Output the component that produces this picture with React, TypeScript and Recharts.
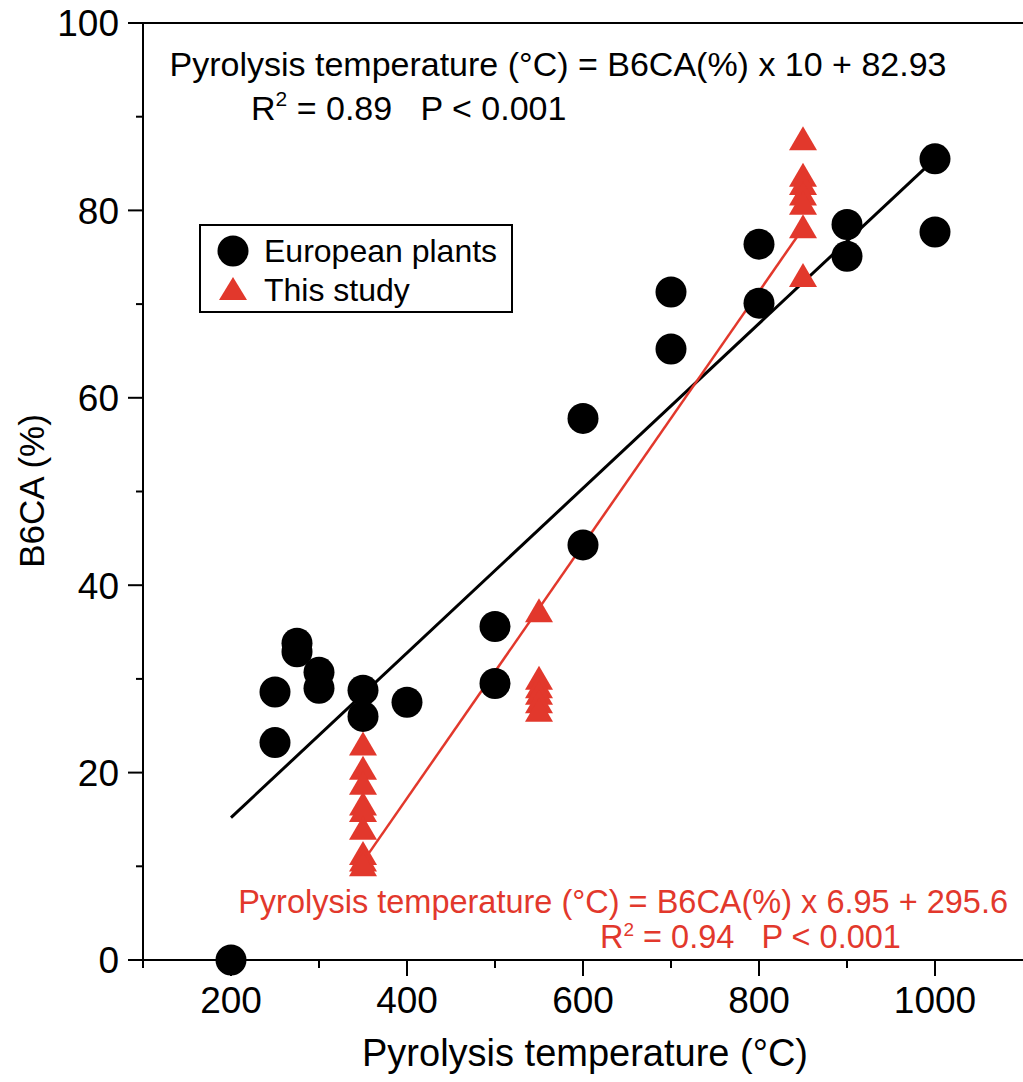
import { ScatterChart, Scatter, XAxis, YAxis, ReferenceLine, Customized } from "recharts";

const europeanTemp = [200, 250, 250, 275, 275, 300, 300, 350, 350, 400, 500, 500, 600, 600, 700, 700, 800, 800, 900, 900, 1000, 1000];
const europeanB6ca = [0, 23.2, 28.6, 33.8, 32.9, 30.7, 29.0, 28.8, 26.0, 27.5, 35.6, 29.5, 57.8, 44.3, 71.3, 65.2, 76.4, 70.1, 78.5, 75.1, 85.5, 77.7];

const studyTemp = [350, 350, 350, 350, 350, 350, 350, 350, 350, 550, 550, 550, 550, 550, 550, 850, 850, 850, 850, 850, 850, 850];
const studyB6ca = [22.9, 20.3, 18.7, 16.5, 15.8, 13.9, 11.2, 10.5, 10.0, 37.1, 29.9, 29.0, 28.3, 27.4, 26.5, 87.5, 83.6, 82.7, 81.6, 80.6, 78.1, 72.9];

const europeanFit = [
  { t: 200, b: 15.2 },
  { t: 1000, b: 85.5 },
];
const studyFit = [
  { t: 350, b: 10.5 },
  { t: 850, b: 78.1 },
];

const xTicks = [100, 200, 300, 400, 500, 600, 700, 800, 900, 1000];
const yTicks = [0, 10, 20, 30, 40, 50, 60, 70, 80, 90, 100];

const RED = "#e2382c";
const FONT = "'Liberation Sans', Arial, Helvetica, sans-serif";

const european = europeanTemp.map((t, i) => ({ t, b: europeanB6ca[i] }));
const study = studyTemp.map((t, i) => ({ t, b: studyB6ca[i] }));

const AXIS_X = 143;
const AXIS_Y = 960;

function Dot(props: any) {
  return <circle cx={props.cx} cy={props.cy} r={15.5} fill="#000" />;
}

function Tri(props: any) {
  const { cx, cy } = props;
  return <polygon points={`${cx},${cy - 14} ${cx - 14},${cy + 10} ${cx + 14},${cy + 10}`} fill={RED} />;
}

function NoShape() {
  return <g />;
}

function YTick(props: any) {
  const v = props.payload.value;
  const major = v % 20 === 0;
  return (
    <g>
      <line x1={AXIS_X - (major ? 15 : 7)} x2={AXIS_X} y1={props.y} y2={props.y} stroke="#000" strokeWidth={2} />
      {major && (
        <text x={AXIS_X - 24} y={props.y} dy="0.36em" textAnchor="end" fontSize={37} fontFamily={FONT} fill="#000">
          {v}
        </text>
      )}
    </g>
  );
}

function XTick(props: any) {
  const v = props.payload.value;
  const major = v % 200 === 0;
  return (
    <g>
      <line x1={props.x} x2={props.x} y1={AXIS_Y} y2={AXIS_Y + (major ? 16 : 8)} stroke="#000" strokeWidth={2} />
      {major && (
        <text x={props.x} y={AXIS_Y + 53} textAnchor="middle" fontSize={37} fontFamily={FONT} fill="#000">
          {v}
        </text>
      )}
    </g>
  );
}

const pre = { whiteSpace: "pre" as const };

function Annotations() {
  return (
    <g fontFamily={FONT}>
      <text x={558} y={76} textAnchor="middle" fontSize={34} fill="#000">
        Pyrolysis temperature (°C) = B6CA(%) x 10 + 82.93
      </text>
      <text x={251} y={120} fontSize={34} fill="#000" style={pre}>
        R<tspan fontSize={21} dy={-14}>2</tspan>
        <tspan dy={14}>{" = 0.89   P < 0.001"}</tspan>
      </text>
      <text x={1008} y={913} textAnchor="end" fontSize={32.5} fill={RED}>
        Pyrolysis temperature (°C) = B6CA(%) x 6.95 + 295.6
      </text>
      <text x={600} y={948} fontSize={32.5} fill={RED} style={pre}>
        R<tspan fontSize={19} dy={-12}>2</tspan>
        <tspan dy={12}>{" = 0.94   P < 0.001"}</tspan>
      </text>
      <text x={585} y={1066} textAnchor="middle" fontSize={38} fill="#000">
        Pyrolysis temperature (°C)
      </text>
      <text x={44} y={491} textAnchor="middle" fontSize={35} fill="#000" transform="rotate(-90 44 491)">
        B6CA (%)
      </text>
      <g transform="translate(200 225)">
        <rect x={0} y={0} width={312} height={87} fill="#fff" stroke="#000" strokeWidth={2} />
        <circle cx={33} cy={26} r={15.5} fill="#000" />
        <text x={64} y={37} fontSize={32} fill="#000">European plants</text>
        <polygon points="33,52 19,75 47,75" fill={RED} />
        <text x={64} y={76} fontSize={32} fill="#000">This study</text>
      </g>
    </g>
  );
}

export default function App() {
  return (
    <div style={{ position: "absolute", left: 0, top: 0, background: "#fff" }}>
      <ScatterChart width={1023} height={1082} margin={{ top: 23, right: 0, left: 83, bottom: 62 }}>
        <XAxis
          type="number"
          dataKey="t"
          domain={[100, 1100]}
          ticks={xTicks}
          interval={0}
          height={60}
          stroke="#000"
          strokeWidth={2}
          tickLine={false}
          tick={<XTick />}
        />
        <YAxis
          type="number"
          dataKey="b"
          domain={[0, 100]}
          ticks={yTicks}
          interval={0}
          width={60}
          stroke="#000"
          strokeWidth={2}
          tickLine={false}
          tick={<YTick />}
        />
        <ReferenceLine y={100} stroke="#000" strokeWidth={2} />
        <Scatter data={europeanFit} line={{ stroke: "#000", strokeWidth: 3 }} shape={<NoShape />} isAnimationActive={false} legendType="none" />
        <Scatter data={studyFit} line={{ stroke: RED, strokeWidth: 2.5 }} shape={<NoShape />} isAnimationActive={false} legendType="none" />
        <Scatter name="European plants" data={european} shape={<Dot />} isAnimationActive={false} />
        <Scatter name="This study" data={study} shape={<Tri />} isAnimationActive={false} />
        <Customized component={<Annotations />} />
      </ScatterChart>
    </div>
  );
}
